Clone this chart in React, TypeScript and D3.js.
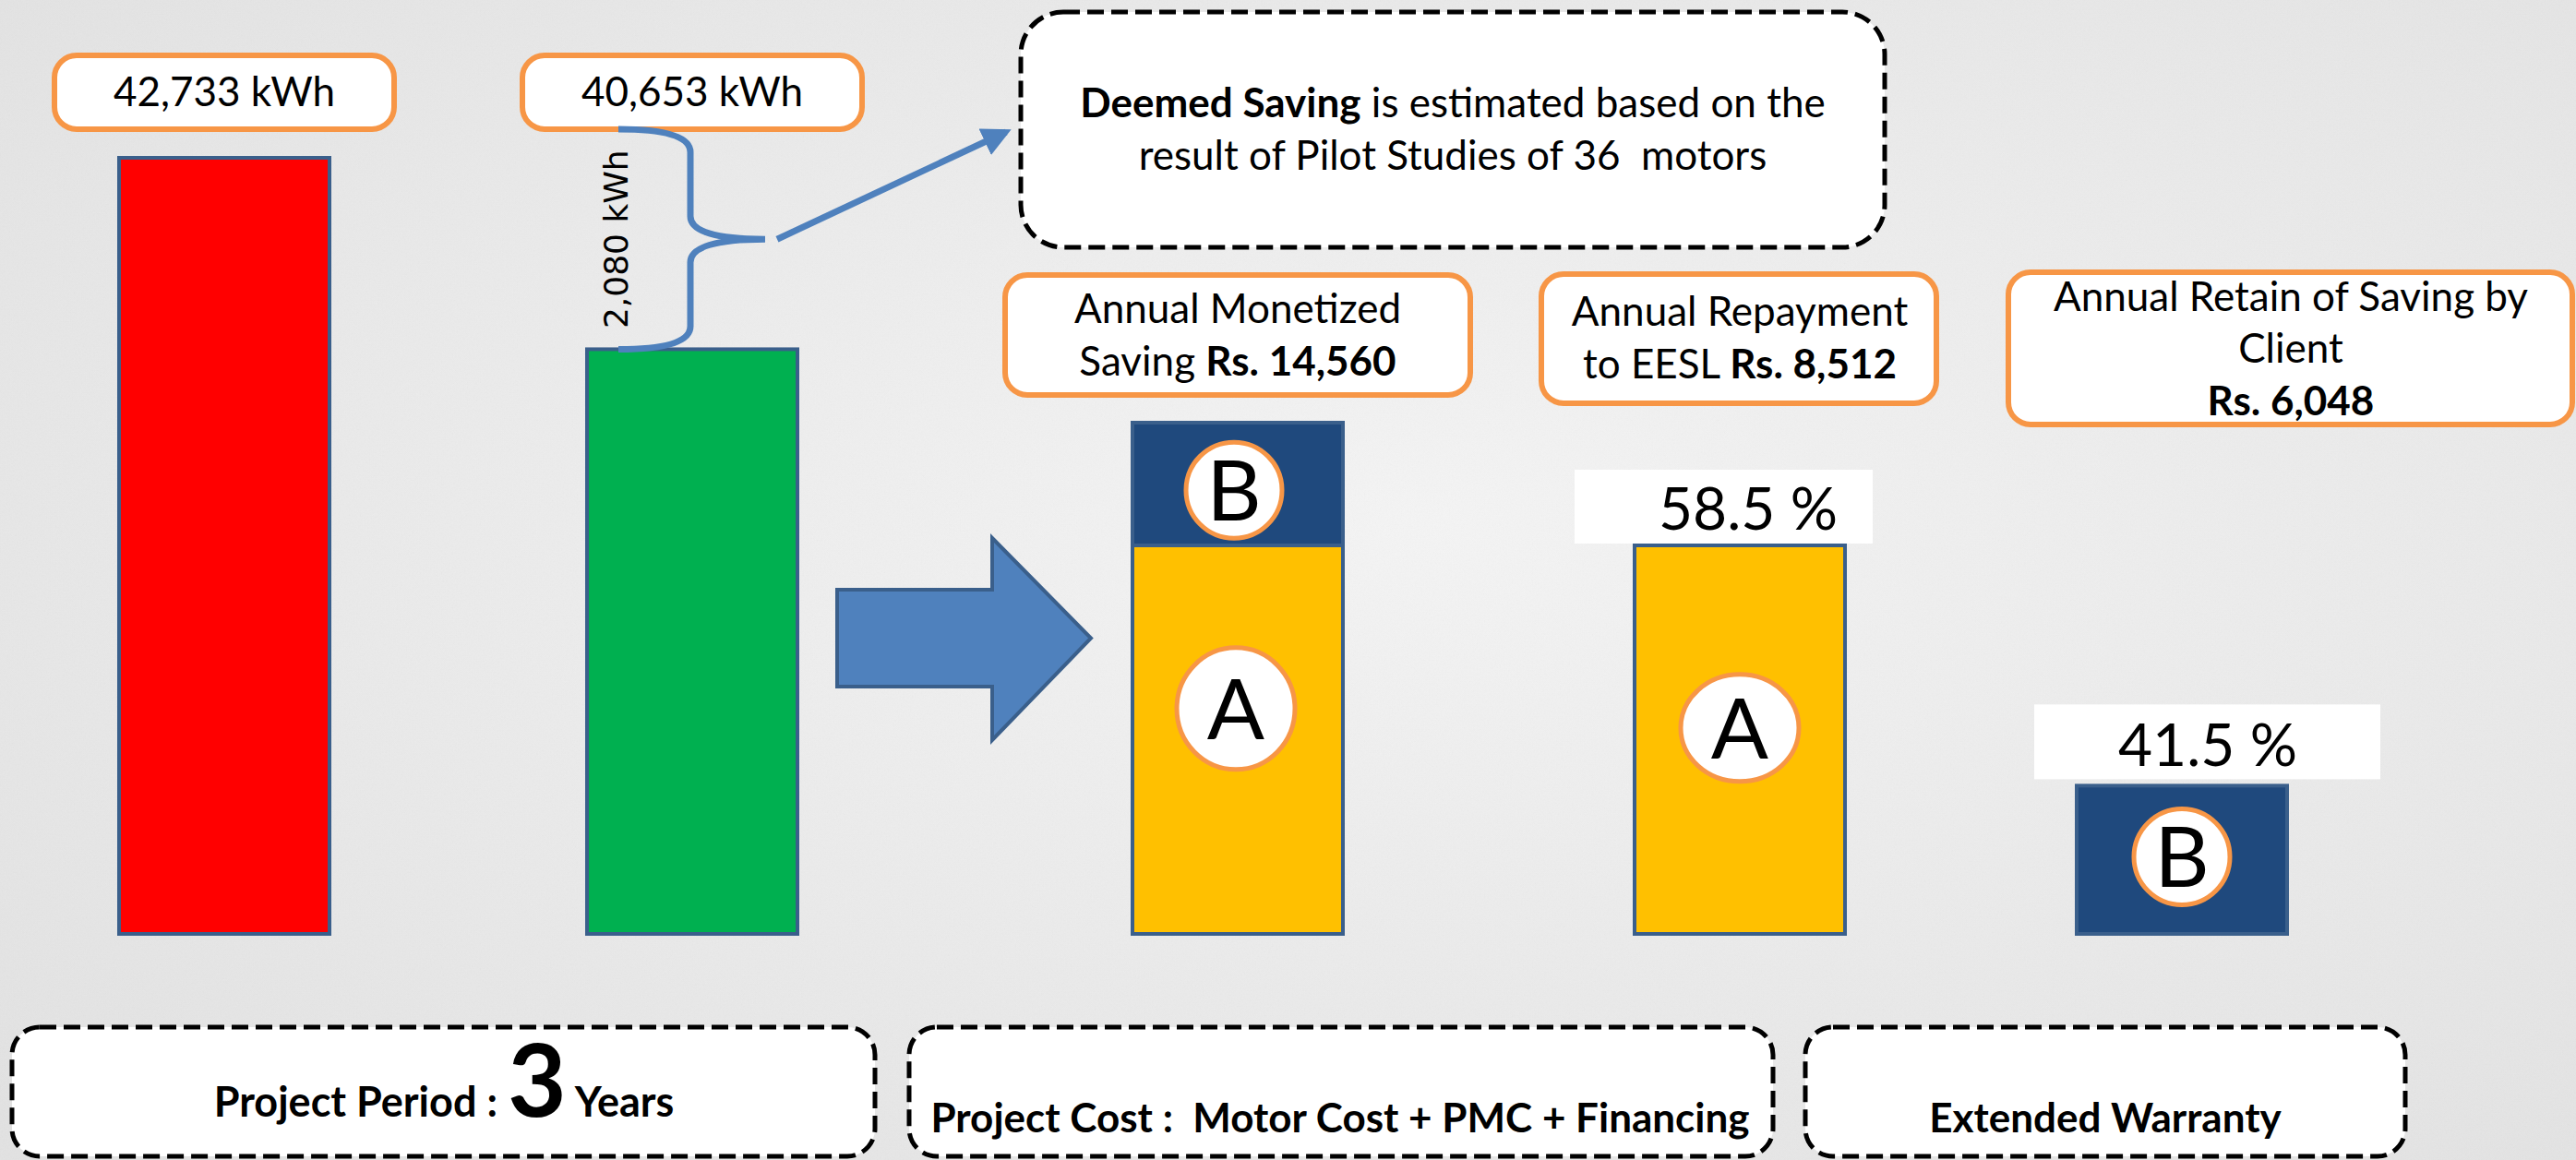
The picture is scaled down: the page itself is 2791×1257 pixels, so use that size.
import { useEffect, useRef } from 'react';
import * as d3 from 'd3';

const W = 2791;
const H = 1257;

// energy (kWh) before / after
const energyKeys = ['baseline', 'proposed'];
const energyValues = [42733, 40653];
const energyLabels = ['42,733 kWh', '40,653 kWh'];
const savingLabel = '2,080 kWh';

// money (Rs.) split into A = repayment, B = retained
const moneyKeys = ['monetized', 'repayment', 'retain'];
const moneyTotal = 14560;
const partA = 8512;
const partB = 6048;
const shareLabels = ['58.5 %', '41.5 %'];

const noteBold = 'Deemed Saving';
const noteRest = ' is estimated based on the';
const noteLine2 = 'result of Pilot Studies of 36  motors';

const footerTexts = ['Project Cost :  Motor Cost + PMC + Financing', 'Extended Warranty'];

export default function App() {
  const svgRef = useRef<SVGSVGElement>(null);

  useEffect(() => {
    if (!svgRef.current) return;
    document.body.style.margin = '0';

    const svg = d3.select(svgRef.current);
    svg.selectAll('*').remove();
    svg.attr('viewBox', `0 0 ${W} ${H}`);

    const BASE = 1012;
    const BW = 228;
    const font = 'Lato, "Open Sans", sans-serif';
    const orange = '#f79646';
    const edge = '#3a5f8b';

    // Scales
    const x = d3.scaleOrdinal<string, number>()
      .domain([...energyKeys, ...moneyKeys])
      .range([243, 750, 1341, 1885, 2364]);

    const kwhY = d3.scaleLinear().domain([34300, 42733]).range([BASE, 171]);
    const rsY = d3.scaleLinear().domain([4528, partA]).range([BASE, 591]);
    const stackY = d3.scaleLinear().domain([partA, moneyTotal]).range([rsY(partA), 458]);

    // Background
    const defs = svg.append('defs');
    const bg = defs.append('radialGradient').attr('id', 'bg')
      .attr('cx', '55%').attr('cy', '45%').attr('r', '75%');
    bg.append('stop').attr('offset', '0%').attr('stop-color', '#f4f4f4');
    bg.append('stop').attr('offset', '100%').attr('stop-color', '#e2e2e2');
    const paper = defs.append('filter').attr('id', 'paper');
    paper.append('feTurbulence').attr('type', 'fractalNoise')
      .attr('baseFrequency', 0.6).attr('numOctaves', 3).attr('seed', 4);
    paper.append('feColorMatrix').attr('type', 'saturate').attr('values', 0);

    svg.append('rect').attr('width', W).attr('height', H).attr('fill', 'url(#bg)');
    svg.append('rect').attr('width', W).attr('height', H)
      .attr('filter', 'url(#paper)').attr('opacity', 0.05);

    defs.append('marker').attr('id', 'head')
      .attr('viewBox', '0 0 10 10').attr('refX', 8).attr('refY', 5)
      .attr('markerWidth', 4.5).attr('markerHeight', 4.5).attr('orient', 'auto')
      .append('path').attr('d', 'M0,0 L10,5 L0,10 Z').attr('fill', '#4f81bd');

    const g = svg.append('g');

    const roundBox = (x0: number, y0: number, x1: number, y1: number) =>
      g.append('rect')
        .attr('x', x0).attr('y', y0)
        .attr('width', x1 - x0).attr('height', y1 - y0)
        .attr('rx', 24)
        .attr('fill', '#fff')
        .attr('stroke', orange)
        .attr('stroke-width', 6);

    const dashBox = (x0: number, y0: number, x1: number, y1: number, r: number) =>
      g.append('rect')
        .attr('x', x0).attr('y', y0)
        .attr('width', x1 - x0).attr('height', y1 - y0)
        .attr('rx', r)
        .attr('fill', '#fff')
        .attr('stroke', '#000')
        .attr('stroke-width', 5)
        .attr('stroke-dasharray', '18,8');

    const label = (cx: number, y: number, size: number, parts: [string, boolean][]) => {
      const t = g.append('text')
        .attr('x', cx).attr('y', y)
        .attr('text-anchor', 'middle')
        .style('font-family', font)
        .style('font-size', `${size}px`)
        .style('white-space', 'pre')
        .attr('fill', '#000');
      parts.forEach(([s, bold]) => {
        t.append('tspan').attr('font-weight', bold ? 700 : 400).text(s);
      });
      return t;
    };

    const bar = (key: string, top: number, bottom: number, color: string) =>
      g.append('rect')
        .attr('x', x(key) - BW / 2).attr('y', top)
        .attr('width', BW).attr('height', bottom - top)
        .attr('fill', color)
        .attr('stroke', edge)
        .attr('stroke-width', 4);

    const marker = (cx: number, cy: number, rx: number, ry: number, letter: string) => {
      g.append('ellipse')
        .attr('cx', cx).attr('cy', cy).attr('rx', rx).attr('ry', ry)
        .attr('fill', '#fff').attr('stroke', orange).attr('stroke-width', 5);
      g.append('text')
        .attr('x', cx).attr('y', cy + 33)
        .attr('text-anchor', 'middle')
        .style('font-family', font)
        .style('font-size', '92px')
        .text(letter);
    };

    // kWh labels
    const labelTop = 60;
    const labelBottom = 140;
    energyKeys.forEach((k, i) => {
      roundBox(x(k) - 184, labelTop, x(k) + 184, labelBottom);
      label(x(k), 115, 44, [[energyLabels[i], false]]);
    });

    // kWh bars
    bar('baseline', kwhY(energyValues[0]), BASE, '#ff0000');
    bar('proposed', kwhY(energyValues[1]), BASE, '#00b050');

    // Brace for the saving
    const bTop = labelBottom;
    const bBot = kwhY(energyValues[1]);
    const bMid = (bTop + bBot) / 2;
    const bx0 = x('proposed') - 80;
    const spine = x('proposed') - 2;
    const tip = x('proposed') + 79;
    const brace = d3.path();
    brace.moveTo(bx0, bTop);
    brace.quadraticCurveTo(spine, bTop, spine, bTop + 25);
    brace.lineTo(spine, bMid - 25);
    brace.quadraticCurveTo(spine, bMid, tip, bMid);
    brace.quadraticCurveTo(spine, bMid, spine, bMid + 25);
    brace.lineTo(spine, bBot - 25);
    brace.quadraticCurveTo(spine, bBot, bx0, bBot);
    g.append('path').attr('d', brace.toString())
      .attr('fill', 'none').attr('stroke', '#4f81bd').attr('stroke-width', 7);

    g.append('text')
      .attr('transform', `translate(${bx0 + 10},${bMid}) rotate(-90)`)
      .attr('text-anchor', 'middle')
      .style('font-family', '"DejaVu Sans", Verdana, sans-serif')
      .style('font-size', '36px')
      .text(savingLabel);

    // Pointer to the note
    g.append('line')
      .attr('x1', tip + 13).attr('y1', bMid)
      .attr('x2', 1090).attr('y2', 143)
      .attr('stroke', '#4f81bd').attr('stroke-width', 7)
      .attr('marker-end', 'url(#head)');

    // Note box
    dashBox(1106, 13, 2042, 268, 46);
    label(1574, 127, 44, [[noteBold, true], [noteRest, false]]);
    label(1574, 184, 44, [[noteLine2, false]]);

    // Block arrow
    const shaftTop = 639, shaftBot = 744;
    const arrowPts: [number, number][] = [
      [907, shaftTop], [1075, shaftTop], [1075, 583], [1182, (shaftTop + shaftBot) / 2],
      [1075, 802], [1075, shaftBot], [907, shaftBot],
    ];
    g.append('path')
      .attr('d', d3.line()(arrowPts) + 'Z')
      .attr('fill', '#4f81bd').attr('stroke', edge).attr('stroke-width', 4);

    // Money headers
    roundBox(1089, 298, 1593, 428);
    label(x('monetized'), 350, 44, [['Annual Monetized', false]]);
    label(x('monetized'), 407, 44, [['Saving ', false], [`Rs. ${d3.format(',')(moneyTotal)}`, true]]);

    roundBox(1670, 297, 2098, 437);
    label(x('repayment'), 353, 44, [['Annual Repayment', false]]);
    label(x('repayment'), 410, 44, [['to EESL ', false], [`Rs. ${d3.format(',')(partA)}`, true]]);

    roundBox(2176, 295, 2787, 460);
    label(2482, 337, 44, [['Annual Retain of Saving by', false]]);
    label(2482, 393, 44, [['Client', false]]);
    label(2482, 450, 44, [[`Rs. ${d3.format(',')(partB)}`, true]]);

    // Money bars
    bar('monetized', rsY(partA), BASE, '#ffc000');
    bar('monetized', stackY(moneyTotal), rsY(partA), '#1f497d');
    bar('repayment', rsY(partA), BASE, '#ffc000');
    bar('retain', rsY(partB), BASE, '#1f497d');

    // Share labels
    const shareA = rsY(partA);
    g.append('rect').attr('x', 1706).attr('y', shareA - 82)
      .attr('width', 323).attr('height', 80).attr('fill', '#fff');
    label(1894, shareA - 17, 64, [[shareLabels[0], false]]);

    const shareB = rsY(partB);
    g.append('rect').attr('x', 2204).attr('y', shareB - 88)
      .attr('width', 375).attr('height', 81).attr('fill', '#fff');
    label(2392, shareB - 21, 64, [[shareLabels[1], false]]);

    // Letter markers
    const stackTop = stackY(moneyTotal);
    marker(x('monetized') - 4, stackTop + 0.55 * (rsY(partA) - stackTop), 52, 52, 'B');
    marker(x('monetized') - 2, rsY(partA) + 0.42 * (BASE - rsY(partA)), 64, 66, 'A');
    marker(x('repayment'), rsY(partA) + 0.47 * (BASE - rsY(partA)), 64, 58, 'A');
    marker(x('retain'), rsY(partB) + 0.48 * (BASE - rsY(partB)), 52, 52, 'B');

    // Footer boxes
    dashBox(13, 1113, 948, 1253, 30);
    dashBox(985, 1113, 1921, 1253, 30);
    dashBox(1956, 1113, 2606, 1253, 30);

    const period = g.append('text')
      .attr('x', 481).attr('y', 1210)
      .attr('text-anchor', 'middle')
      .style('font-family', font)
      .style('font-weight', 700)
      .style('white-space', 'pre');
    period.append('tspan').style('font-size', '45px').text('Project Period : ');
    period.append('tspan').style('font-size', '110px').text('3');
    period.append('tspan').style('font-size', '45px').text(' Years');

    label(1452, 1227, 44, [[footerTexts[0], true]]);
    label(2281, 1227, 44, [[footerTexts[1], true]]);
  }, []);

  return (
    <svg
      ref={svgRef}
      width={W}
      height={H}
      style={{ display: 'block', position: 'absolute', left: 0, top: 0 }}
    />
  );
}
